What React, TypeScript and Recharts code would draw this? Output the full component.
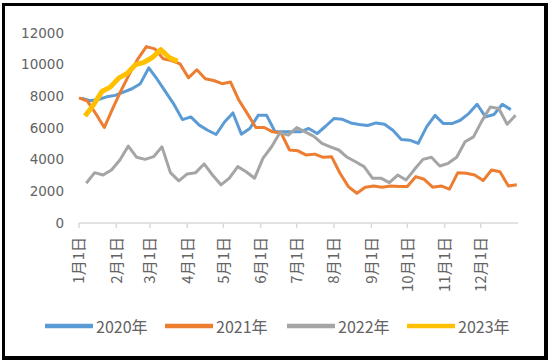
import React from 'react';
import { LineChart, Line, XAxis, YAxis } from 'recharts';

// x positions are day-of-year of each weekly observation
const monthTickDays = [0, 31, 59, 90, 120, 151, 181, 212, 243, 273, 304, 334];
const monthLabels = ['1月1日', '2月1日', '3月1日', '4月1日', '5月1日', '6月1日', '7月1日', '8月1日', '9月1日', '10月1日', '11月1日', '12月1日'];
const yTicks = [0, 2000, 4000, 6000, 8000, 10000, 12000];

const days2020 = [2, 9, 16, 23, 30, 37, 44, 51, 58, 65, 72, 79, 86, 93, 100, 107, 114, 121, 128, 135, 142, 149, 156, 163, 170, 177, 184, 191, 198, 205, 212, 219, 226, 233, 240, 247, 254, 261, 268, 275, 282, 289, 296, 303, 310, 317, 324, 331, 338, 345, 352, 359];
const values2020 = [7890, 7720, 7800, 7970, 8060, 8270, 8480, 8800, 9800, 9080, 8280, 7490, 6530, 6700, 6180, 5860, 5590, 6380, 6950, 5610, 5970, 6800, 6800, 5760, 5760, 5760, 5760, 5970, 5650, 6110, 6600, 6550, 6320, 6220, 6160, 6320, 6240, 5860, 5280, 5230, 5030, 6070, 6800, 6280, 6280, 6490, 6910, 7500, 6700, 6850, 7500, 7160];

const days2021 = [0, 7, 14, 21, 28, 35, 42, 49, 56, 63, 70, 77, 84, 91, 98, 105, 112, 119, 126, 133, 140, 147, 154, 161, 168, 175, 182, 189, 196, 203, 210, 217, 224, 231, 238, 245, 252, 259, 266, 273, 280, 287, 294, 301, 308, 315, 322, 329, 336, 343, 350, 357, 364];
const values2021 = [7900, 7700, 6900, 6030, 7220, 8370, 9420, 10370, 11140, 11000, 10370, 10260, 10050, 9170, 9680, 9110, 9000, 8800, 8900, 7750, 6910, 6030, 6030, 5760, 5690, 4610, 4560, 4290, 4350, 4150, 4190, 3140, 2300, 1880, 2260, 2340, 2260, 2340, 2300, 2300, 2930, 2760, 2260, 2340, 2140, 3180, 3140, 3030, 2680, 3350, 3240, 2340, 2410];

const days2022 = [6, 13, 20, 27, 34, 41, 48, 55, 62, 69, 76, 83, 90, 97, 104, 111, 118, 125, 132, 139, 146, 153, 160, 167, 174, 181, 188, 195, 202, 209, 216, 223, 230, 237, 244, 251, 258, 265, 272, 279, 286, 293, 300, 307, 314, 321, 328, 335, 342, 349, 356, 363];
const values2022 = [2510, 3180, 3030, 3350, 3980, 4860, 4150, 4020, 4190, 4810, 3180, 2660, 3100, 3180, 3730, 3030, 2410, 2830, 3560, 3240, 2830, 4100, 4800, 5700, 5550, 6030, 5760, 5490, 5030, 4810, 4610, 4150, 3870, 3560, 2830, 2830, 2550, 3030, 2720, 3390, 4020, 4150, 3600, 3770, 4150, 5130, 5440, 6450, 7330, 7230, 6240, 6800];

const days2023 = [5, 12, 19, 26, 33, 40, 47, 54, 61, 68, 75, 82];
const values2023 = [6760, 7450, 8300, 8580, 9150, 9450, 10000, 10150, 10450, 10950, 10450, 10220];

const seriesNames = ['2020年', '2021年', '2022年', '2023年'];
const seriesColors = ['#5B9BD5', '#ED7D31', '#A5A5A5', '#FFC000'];

const toData = (days: number[], values: number[]) => days.map((d, i) => ({ day: d, v: values[i] }));

const series = [
  { name: seriesNames[0], color: seriesColors[0], width: 3, data: toData(days2020, values2020) },
  { name: seriesNames[1], color: seriesColors[1], width: 3, data: toData(days2021, values2021) },
  { name: seriesNames[2], color: seriesColors[2], width: 3, data: toData(days2022, values2022) },
  { name: seriesNames[3], color: seriesColors[3], width: 5, data: toData(days2023, values2023) },
];

const FONT = '"Noto Sans CJK SC", "Noto Sans", sans-serif';
const NUM_FONT = '"DejaVu Sans", "Noto Sans CJK SC", sans-serif';
const TEXT_COLOR = '#636363';

const MonthTick = (props: any) => {
  const { x, y, payload, index } = props;
  const label = monthLabels[monthTickDays.indexOf(payload.value)] ?? monthLabels[index];
  return (
    <text
      x={x}
      y={y}
      dy="0.36em"
      transform={`rotate(-90, ${x}, ${y})`}
      textAnchor="end"
      fill={TEXT_COLOR}
      fontSize={15}
      fontFamily={FONT}
    >
      {label}
    </text>
  );
};

const legendLeft = [45, 165, 287, 407];

export default function App() {
  return (
    <div style={{ position: 'absolute', left: 0, top: 0, width: 550, height: 362, background: '#fff', overflow: 'hidden' }}>
      <LineChart width={550} height={362} margin={{ top: 33, right: 32, bottom: 69, left: 0 }}>
        <XAxis
          dataKey="day"
          type="number"
          domain={[0, 365]}
          ticks={monthTickDays}
          interval={0}
          allowDuplicatedCategory={false}
          height={70}
          stroke="#D9D9D9"
          axisLine={{ stroke: '#D9D9D9', strokeWidth: 1.5 }}
          tickLine={{ stroke: '#D9D9D9', strokeWidth: 1.5 }}
          tickSize={5}
          tickMargin={9}
          tick={<MonthTick />}
        />
        <YAxis
          type="number"
          domain={[0, 12000]}
          ticks={yTicks}
          interval={0}
          width={79}
          axisLine={false}
          tickLine={false}
          tickSize={0}
          tickMargin={15}
          tick={{ fill: TEXT_COLOR, fontSize: 13.5, fontFamily: NUM_FONT }}
        />
        {series.map((s) => (
          <Line
            key={s.name}
            data={s.data}
            dataKey="v"
            name={s.name}
            type="linear"
            stroke={s.color}
            strokeWidth={s.width}
            dot={false}
            activeDot={false}
            isAnimationActive={false}
            strokeLinejoin="round"
          />
        ))}
      </LineChart>
      {series.map((s, i) => (
        <div
          key={s.name}
          style={{ position: 'absolute', left: legendLeft[i], top: 315, height: 22, display: 'flex', alignItems: 'center' }}
        >
          <svg width={48} height={22} style={{ display: 'block' }}>
            <line x1={0} y1={11} x2={48} y2={11} stroke={s.color} strokeWidth={4.5} strokeLinecap="round" />
          </svg>
          <span style={{ marginLeft: 3, color: TEXT_COLOR, fontSize: 16, fontFamily: FONT, lineHeight: '22px', whiteSpace: 'nowrap' }}>
            {s.name}
          </span>
        </div>
      ))}
      <div
        style={{
          position: 'absolute',
          left: 2,
          top: 3,
          width: 546,
          height: 357,
          boxSizing: 'border-box',
          borderStyle: 'solid',
          borderColor: '#000',
          borderWidth: '3px 4px 4px 3px',
          pointerEvents: 'none',
        }}
      />
    </div>
  );
}
